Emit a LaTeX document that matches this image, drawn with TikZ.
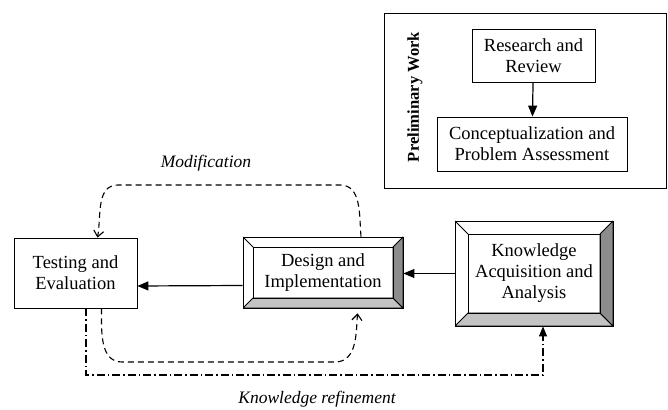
\documentclass[tikz,border=0pt]{standalone}
\usepackage{fontspec}
\setmainfont{Liberation Serif}
\usetikzlibrary{arrows.meta,calc}
\definecolor{bevelside}{RGB}{140,140,140}
\definecolor{bevelbot}{RGB}{195,195,195}
\tikzset{
  box/.style={shape=rectangle, draw=black, line width=0.8pt, align=center, inner sep=0pt, font=\fontsize{18.5}{21}\selectfont},
  bevel/.style={box, fill=white, path picture={
    \filldraw[fill=bevelbot, line width=0.8pt] (path picture bounding box.south west) -- (path picture bounding box.south east)
      -- ([shift={(-#1,#1)}]path picture bounding box.south east) -- ([shift={(#1,#1)}]path picture bounding box.south west) -- cycle;
    \filldraw[fill=bevelside, line width=0.8pt] (path picture bounding box.south east) -- (path picture bounding box.north east)
      -- ([shift={(-#1,-#1)}]path picture bounding box.north east) -- ([shift={(-#1,#1)}]path picture bounding box.south east) -- cycle;
    \draw[line width=0.8pt] ([shift={(#1,#1)}]path picture bounding box.south west) rectangle ([shift={(-#1,-#1)}]path picture bounding box.north east);
    \draw[line width=0.8pt] (path picture bounding box.north west) -- ([shift={(#1,-#1)}]path picture bounding box.north west);
  }},
  flow/.style={-{Triangle[length=11pt,width=9pt]}, line width=1.2pt},
  modline/.style={-{Straight Barb[length=6pt,width=10pt]}, line width=1.1pt, dash pattern=on 6pt off 4pt},
  refline/.style={-{Triangle[length=10pt,width=8pt]}, line width=1.1pt, dash pattern=on 8pt off 3pt on 1.5pt off 3pt},
  note/.style={font=\fontsize{17.5}{20}\selectfont\itshape}
}
\begin{document}
\begin{tikzpicture}[x=1pt, y=1pt]
\useasboundingbox (0,0) rectangle (668,409);
% preliminary work
\node[box, minimum width=282, minimum height=175] (prelim) at (525,308.5) {};
\node[font=\fontsize{16.6}{19}\selectfont\bfseries, rotate=90] (prelimlabel) at (415,312) {Preliminary Work};
\node[box, minimum width=123, minimum height=53] (research) at (533.5,353.5) {Research and\\Review};
\node[box, minimum width=190, minimum height=54] (concept) at (532,265) {Conceptualization and\\Problem Assessment};
\path [flow, draw=black] (research) edge (concept);
% main cycle
\node[box, minimum width=123, minimum height=70] (testing) at (75.5,136) {Testing and\\Evaluation};
\node[bevel=10, minimum width=160, minimum height=71] (design) at (323,136.5) {Design and\\Implementation};
\node[bevel=13, minimum width=158, minimum height=105] (knowledge) at (534,135.5) {Knowledge\\Acquisition and\\Analysis};
\draw[flow] (knowledge.west) -- (knowledge.west -| design.east);
\draw[flow] ([yshift=-13]design.west) -- ([yshift=-13]testing.east);
% feedback loops
\draw[modline] ([xshift=38]design.north) to[out=95,in=0] (340,224) -- (118,224) to[out=180,in=80] ([xshift=22]testing.north);
\draw[modline, shorten >=5pt] ([xshift=26]testing.south) to[out=-90,in=180] (122,47) -- (335,47) to[out=0,in=-95] ([xshift=35]design.south);
\coordinate (refcorner) at (543,34);
\draw[refline] ([xshift=10.5]testing.south) |- (refcorner) -- ([xshift=9]knowledge.south);
\node[note] (modlabel) at (206,246) {Modification};
\node[note] (reflabel) at (317,10) {Knowledge refinement};
\end{tikzpicture}
\end{document}
